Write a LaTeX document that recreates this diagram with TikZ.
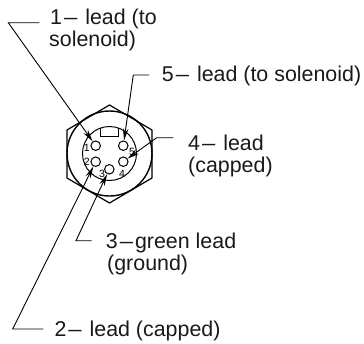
\documentclass[tikz,border=0pt]{standalone}
\usepackage{graphicx}
\usepackage{fontspec}
\setmainfont{Liberation Sans}
\usetikzlibrary{arrows.meta}
\newcommand{\ldash}{\kern2pt\scalebox{0.62}[1]{—}\kern2pt}
\tikzset{
  lbl/.style={anchor=base west,inner sep=0pt,font=\fontsize{21.4}{21.4}\selectfont,text=black!90},
  dig/.style={inner sep=0pt,font=\fontsize{10.5}{10.5}\selectfont},
  pinhole/.style={circle,draw,line width=1pt,minimum size=9.5pt,inner sep=0pt},
  body/.style={line width=1.2pt},
  leader/.style={line width=0.9pt,-{Stealth[length=12pt,width=5.5pt]}},
}
\begin{document}
\begin{tikzpicture}[x=1pt,y=-1pt]
\useasboundingbox (0,0) rectangle (364,343);
% hex body
\draw[body,line join=round] (109.5,105) -- (152,130) -- (152,178) -- (109.5,203) -- (67,178) -- (67,130) -- cycle;
\draw[line width=1.4pt] (109.5,153.5) circle[radius=42.5];
\draw[line width=1pt] (109.5,153.5) circle[radius=27];
\draw[line width=1pt] (100.7,127.8) -- (100.7,136) -- (118.3,136) -- (118.3,127.8);
% pins
\node[pinhole] (p1) at (95.7,145.7) {};
\node[pinhole] (p5) at (123.3,145.7) {};
\node[pinhole] (p2) at (95.7,161.7) {};
\node[pinhole] (p4) at (123.3,161.7) {};
\node[pinhole] (p3) at (109.3,169.3) {};
\node[dig] (d1) at (86.7,148) {1};
\node[dig] (d2) at (86.7,162) {2};
\node[dig] (d3) at (102,174) {3};
\node[dig] (d4) at (122,174) {4};
\node[dig] (d5) at (132,151.7) {5};
% labels
\node[lbl] (t1) at (50,24) {1\ldash\ lead (to};
\node[lbl] (t1b) at (49,46.5) {solenoid)};
\node[lbl] (t5) at (161.7,81.7) {5\ldash\ lead (to solenoid)};
\node[lbl] (t4) at (188,150) {4\ldash\ lead};
\node[lbl] (t4b) at (188,172.5) {(capped)};
\node[lbl] (t3) at (105.7,248.3) {3\ldash green lead};
\node[lbl] (t3b) at (107,270.7) {(ground)};
\node[lbl] (t2) at (54.3,336.7) {2\ldash\ lead (capped)};
% leaders
\coordinate (a1) at (39.3,22.7); \coordinate (b1) at (8.3,22.7);
\coordinate (a5) at (149,75); \coordinate (b5) at (133.3,75);
\coordinate (a4) at (173.3,137.7); \coordinate (b4) at (156.7,137.7);
\coordinate (a3) at (91.7,240.7); \coordinate (b3) at (76,240.7);
\coordinate (a2) at (43.3,329); \coordinate (b2) at (12.7,329);
\draw[leader] (a1) -- (b1) -- (p1);
\draw[leader] (a5) -- (b5) -- (p5);
\draw[leader] (a4) -- (b4) -- (p4);
\draw[leader] (a3) -- (b3) -- (p3);
\draw[leader] (a2) -- (b2) -- (p2);
\end{tikzpicture}
\end{document}
